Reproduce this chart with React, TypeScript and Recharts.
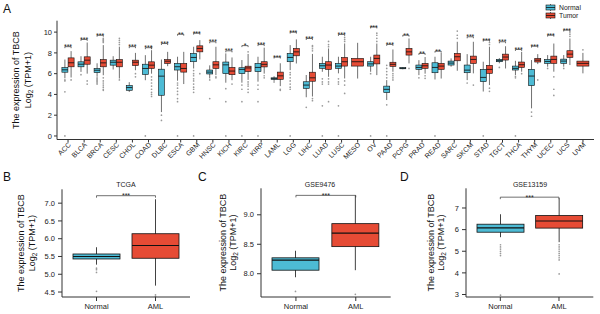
import { Bar, ComposedChart, ReferenceLine, XAxis, YAxis } from "recharts"

const NORMAL_COLOR = "#4DBBD5"
const TUMOR_COLOR = "#E64B35"
const INK = "#222222"

// panel A: TCGA pan-cancer, stats are [lowWhisker, q1, median, q3, highWhisker]
const cancers = [
  "ACC", "BLCA", "BRCA", "CESC", "CHOL", "COAD", "DLBC", "ESCA", "GBM", "HNSC", "KICH",
  "KIRC", "KIRP", "LAML", "LGG", "LIHC", "LUAD", "LUSC", "MESO", "OV", "PAAD", "PCPG",
  "PRAD", "READ", "SARC", "SKCM", "STAD", "TGCT", "THCA", "THYM", "UCEC", "UCS", "UVM",
]

const normalStats: (number[] | null)[] = [
  [5.55, 6.14, 6.37, 6.59, 7.36],
  [6.17, 6.66, 6.91, 7.14, 7.68],
  [5.7, 6.1, 6.33, 6.5, 7.0],
  [6.4, 6.82, 7.1, 7.3, 7.68],
  [4.24, 4.4, 4.66, 4.86, 5.18],
  [5.37, 5.92, 6.5, 6.91, 7.78],
  [2.3, 3.92, 5.76, 6.43, 7.36],
  [5.32, 6.35, 6.67, 6.99, 7.63],
  [6.5, 7.15, 7.56, 7.95, 8.59],
  [5.54, 5.97, 6.15, 6.35, 6.8],
  [5.13, 6.0, 6.85, 7.12, 7.95],
  [5.13, 6.0, 6.41, 6.57, 7.31],
  [5.23, 6.19, 6.6, 6.99, 7.63],
  [5.3, 5.45, 5.52, 5.6, 5.75],
  [6.34, 7.15, 7.56, 7.95, 8.75],
  [3.73, 4.58, 4.9, 5.22, 5.87],
  [6.18, 6.51, 6.76, 6.99, 7.63],
  [6.03, 6.51, 6.73, 6.99, 7.63],
  null,
  [6.18, 6.73, 6.94, 7.15, 7.63],
  [3.46, 4.17, 4.49, 4.8, 5.38],
  [6.42, 6.47, 6.52, 6.58, 6.62],
  [5.86, 6.41, 6.6, 6.83, 7.3],
  [5.44, 6.09, 6.6, 7.05, 7.63],
  [6.67, 6.83, 7.02, 7.21, 7.47],
  [5.38, 6.09, 6.34, 6.83, 7.88],
  [4.28, 5.23, 5.64, 6.42, 7.15],
  [7.0, 7.15, 7.25, 7.38, 7.5],
  [5.87, 6.35, 6.51, 6.73, 7.24],
  [2.66, 4.85, 5.77, 6.42, 7.31],
  [6.67, 6.99, 7.18, 7.37, 7.79],
  [6.67, 6.99, 7.21, 7.4, 7.79],
  null,
]

const tumorStats: number[][] = [
  [5.63, 6.66, 7.05, 7.52, 8.17],
  [6.0, 6.91, 7.3, 7.62, 9.0],
  [5.85, 6.66, 7.04, 7.36, 8.75],
  [5.53, 6.66, 7.1, 7.36, 8.6],
  [6.33, 6.78, 7.1, 7.3, 8.0],
  [6.0, 6.5, 6.82, 7.14, 8.26],
  [6.72, 6.98, 7.2, 7.36, 8.1],
  [5.0, 6.15, 6.5, 6.99, 8.1],
  [7.37, 8.1, 8.43, 8.68, 9.23],
  [5.86, 6.5, 6.85, 7.15, 8.59],
  [5.37, 5.9, 6.25, 6.6, 7.56],
  [5.4, 6.2, 6.55, 6.72, 7.9],
  [6.0, 6.65, 6.9, 7.15, 8.5],
  [4.8, 5.45, 5.79, 6.15, 7.0],
  [6.98, 7.72, 8.1, 8.43, 9.3],
  [3.8, 5.27, 5.6, 6.14, 7.9],
  [5.7, 6.41, 6.83, 7.15, 8.43],
  [5.54, 6.73, 7.15, 7.56, 8.91],
  [5.53, 6.73, 7.15, 7.47, 8.97],
  [5.86, 6.94, 7.47, 7.79, 8.9],
  [6.18, 6.7, 6.9, 7.1, 8.33],
  [6.99, 7.79, 8.1, 8.43, 9.39],
  [6.0, 6.51, 6.76, 6.99, 7.6],
  [5.53, 6.41, 6.73, 6.99, 8.0],
  [6.28, 7.24, 7.63, 7.95, 9.07],
  [6.03, 6.98, 7.37, 7.69, 9.07],
  [4.9, 6.03, 6.41, 6.8, 8.6],
  [6.5, 7.31, 7.6, 7.88, 8.64],
  [6.19, 6.6, 6.86, 7.12, 8.1],
  [6.92, 7.12, 7.3, 7.47, 7.88],
  [6.19, 6.99, 7.37, 7.69, 8.9],
  [6.83, 7.56, 7.88, 8.21, 9.39],
  [6.03, 6.73, 6.99, 7.21, 8.0],
]

const normalOutliers: number[][] = [
  [5.4, 5.3, 4.25, 0], [5.9], [5.6, 5.5, 5.4, 5.3, 5.2, 5.1, 5.0], [], [], [0], [2.0, 1.5],
  [5.1, 4.9, 4.6, 4.3, 4.0, 3.6, 3.3, 0], [6.3, 6.0, 5.8, 5.5, 5.3, 5.0, 4.7, 4.5, 4.2, 0],
  [5.4, 3.6], [4.55, 3.3, 0], [4.9, 4.5, 3.3, 0], [4.9, 4.5, 3.3, 0], [5.2],
  [6.1, 5.9, 5.6, 5.3, 5.0, 4.7, 4.5, 0], [2.76], [5.5, 5.2, 5.0, 2.9, 0], [5.5, 5.2, 5.0, 2.9, 0],
  [], [6.0, 0], [6.8, 6.5, 6.2, 5.9, 5.6, 3.0, 0], [], [5.6], [0], [], [5.1], [0], [6.6],
  [5.75, 5.6, 0], [2.3, 1.9], [6.5], [6.5], [],
]

const tumorOutliers: number[][] = [
  [5.4], [5.3, 5.0], [9.0, 9.1, 9.2, 9.3, 9.4, 5.6, 5.3, 5.1, 4.9, 4.7, 4.5, 4.4],
  [8.8, 9.0, 9.2, 9.4, 5.4], [6.0, 5.7], [8.5, 8.6, 5.7, 5.4, 5.1, 4.8, 4.5, 4.2, 4.0, 3.8], [],
  [], [6.0], [5.7, 5.6], [5.0], [8.1, 5.2, 5.0, 4.8, 4.5, 4.2], [5.8, 5.6], [4.5, 4.4], [],
  [8.2, 8.4, 8.6, 8.7, 3.6, 3.4], [8.6, 8.8, 9.1, 5.5, 5.2, 5.0, 3.3], [9.1, 9.3, 9.5, 5.3, 4.9, 4.1],
  [], [9.1, 9.4, 9.7, 9.9], [6.0, 5.8, 5.6, 5.4], [6.5], [5.8, 5.55], [], [9.4, 9.7, 10.1], [4.9],
  [8.8, 9.0, 4.6, 4.3], [], [6.0], [5.4], [5.7, 4.5, 3.9], [9.6, 9.8, 10.0], [8.3],
]

const signifLabels = [
  "***", "***", "***", "", "***", "***", "***", "**", "***", "***", "***", "*", "***", "***", "***",
  "***", "", "***", "", "***", "***", "**", "**", "**", "", "***", "***", "***", "***", "***", "***", "***", "",
]

const bracketLevels: (number | null)[] = [
  8.6, 9.3, 9.7, null, 8.6, 8.5, 8.9, 9.8, 9.9, 9.07, 8.2, 8.7, 8.8, 7.6, 10.0,
  9.39, null, 9.78, null, 10.5, 8.82, 9.71, 7.95, 8.17, null, 9.55, 9.23, 9.07, 8.33, 8.65, 9.71, 10.2, null,
]

// panels B-D: Normal vs AML
const groups = ["Normal", "AML"]

const tcgaStats = [[5.27, 5.43, 5.5, 5.57, 5.76], [4.68, 5.45, 5.81, 6.14, 7.11]]
const tcgaOutliers = [[5.17, 5.13, 5.05, 4.52], [4.42, 4.38]]
const tcgaBracket = 7.21

const gse9476Stats = [[7.94, 8.06, 8.23, 8.27, 8.39], [8.06, 8.46, 8.69, 8.85, 9.33]]
const gse9476Outliers = [[7.7], [7.65]]
const gse9476Bracket = 9.33

const gse13159Stats = [[5.65, 5.88, 6.08, 6.25, 6.71], [5.42, 6.07, 6.4, 6.65, 7.45]]
const gse13159Outliers = [
  [5.3, 5.2, 5.1, 5.0, 4.9, 4.8, 2.97],
  [5.3, 5.2, 5.1, 5.0, 4.9, 4.8, 4.7, 4.6, 3.95],
]
const gse13159Bracket = 7.5

const pairData = cancers.map((name, i) => {
  const vals = [...(normalStats[i] ?? []), ...tumorStats[i], ...normalOutliers[i], ...tumorOutliers[i]]
  const b = bracketLevels[i]
  if (b != null) vals.push(b)
  return {
    name,
    normal: normalStats[i],
    tumor: tumorStats[i],
    nOut: normalOutliers[i],
    tOut: tumorOutliers[i],
    sig: signifLabels[i],
    bracket: b,
    range: [Math.min(...vals), Math.max(...vals)],
  }
})

const groupData = (stats: number[][], outs: number[][]) =>
  groups.map((name, i) => {
    const vals = [...stats[i], ...outs[i]]
    return { name, stats: stats[i], out: outs[i], range: [Math.min(...vals), Math.max(...vals)] }
  })

function drawBox(cx: number, half: number, stats: number[], out: number[], color: string, py: (v: number) => number, thin: number) {
  const [lo, q1, med, q3, hi] = stats
  const top = py(q3)
  const h = Math.max(py(q1) - top, 1)
  return (
    <g>
      <line x1={cx} x2={cx} y1={py(hi)} y2={py(lo)} stroke="#111" strokeWidth={thin} />
      <rect x={cx - half} y={top} width={half * 2} height={h} fill={color} stroke="#111" strokeWidth={thin} />
      <line x1={cx - half} x2={cx + half} y1={py(med)} y2={py(med)} stroke="#111" strokeWidth={thin * 1.4} />
      {out.map((v, j) => (
        <circle key={j} cx={cx} cy={py(v)} r={0.85} fill="#9a9a9a" />
      ))}
    </g>
  )
}

function pixelMapper(y: number, height: number, range: number[]) {
  const top = Math.min(y, y + height)
  const span = Math.abs(height)
  const [lo, hi] = range
  return (v: number) => top + ((hi - v) / (hi - lo)) * span
}

const PairShape = (props: any) => {
  const { x, y, width, height, payload } = props
  const py = pixelMapper(y, height, payload.range)
  const cx = x + width / 2
  if (!payload.normal) {
    return drawBox(cx, 6, payload.tumor, payload.tOut, TUMOR_COLOR, py, 0.6)
  }
  const off = 3.1
  return (
    <g>
      {drawBox(cx - off, 3, payload.normal, payload.nOut, NORMAL_COLOR, py, 0.6)}
      {drawBox(cx + off, 3, payload.tumor, payload.tOut, TUMOR_COLOR, py, 0.6)}
      {payload.bracket != null && (
        <g>
          <path
            d={`M${cx - off},${py(payload.bracket) + 1.5}V${py(payload.bracket)}H${cx + off}V${py(payload.bracket) + 1.5}`}
            fill="none"
            stroke="#111"
            strokeWidth={0.6}
          />
          <text x={cx} y={py(payload.bracket) + 2.6} textAnchor="middle" fontSize={7} fill={INK}>
            {payload.sig}
          </text>
        </g>
      )}
    </g>
  )
}

const SingleShape = (props: any) => {
  const { x, y, width, height, payload } = props
  const py = pixelMapper(y, height, payload.range)
  const color = payload.name === "Normal" ? NORMAL_COLOR : TUMOR_COLOR
  return drawBox(x + width / 2, width / 2, payload.stats, payload.out, color, py, 0.8)
}

const SigLabel = ({ viewBox, text }: any) => {
  if (!viewBox) return null
  const { x, y, width } = viewBox
  return (
    <g>
      <line x1={x} x2={x} y1={y} y2={y + 2} stroke="#333" strokeWidth={0.7} />
      <line x1={x + width} x2={x + width} y1={y} y2={y + 2} stroke="#333" strokeWidth={0.7} />
      <text x={x + width / 2} y={y + 2.6} textAnchor="middle" fontSize={7} fill={INK}>
        {text}
      </text>
    </g>
  )
}

const AxisTitle = ({ viewBox, gap1, gap2 }: any) => {
  if (!viewBox) return null
  const ax = viewBox.x + viewBox.width
  const cy = viewBox.y + viewBox.height / 2
  return (
    <g fontSize={9} fill="#111">
      <text transform={`translate(${ax - gap1},${cy}) rotate(-90)`} textAnchor="middle" dominantBaseline="central">
        The expression of TBCB
      </text>
      <text transform={`translate(${ax - gap2},${cy}) rotate(-90)`} textAnchor="middle" dominantBaseline="central">
        Log<tspan fontSize={6.5} dy={2}>2</tspan>
        <tspan dy={-2}> (TPM+1)</tspan>
      </text>
    </g>
  )
}

const SlantTick = ({ x, y, payload }: any) => (
  <text transform={`translate(${x + 1.5},${y}) rotate(-45)`} textAnchor="end" fontSize={7} fill={INK} dy="0.35em">
    {payload.value}
  </text>
)

const axisStroke = "#333"

function GroupChart({ data, domain, ticks, fmt, bracket, left, top, marginLeft, marginRight, marginTop, gaps }: any) {
  return (
    <div style={{ position: "absolute", left, top }}>
      <ComposedChart
        width={200}
        height={149}
        data={data}
        margin={{ top: marginTop, right: marginRight, bottom: 3, left: marginLeft }}
      >
        <XAxis
          dataKey="name"
          padding={{ left: 5, right: 5 }}
          height={14}
          tickSize={4}
          tickMargin={3}
          stroke={axisStroke}
          tick={{ fontSize: 7.5, fill: INK }}
        />
        <YAxis
          width={30}
          type="number"
          domain={domain}
          ticks={ticks}
          tickFormatter={fmt}
          tickSize={4}
          tickMargin={3}
          stroke={axisStroke}
          tick={{ fontSize: 7.5, fill: INK }}
          label={<AxisTitle gap1={gaps[0]} gap2={gaps[1]} />}
        />
        <Bar dataKey="range" barSize={47} shape={<SingleShape />} isAnimationActive={false} />
        <ReferenceLine
          segment={[{ x: "Normal", y: bracket }, { x: "AML", y: bracket }]}
          stroke="#333"
          strokeWidth={0.7}
          ifOverflow="visible"
          label={<SigLabel text="***" />}
        />
      </ComposedChart>
    </div>
  )
}

export default function App() {
  return (
    <div
      style={{
        position: "absolute",
        left: 0,
        top: 0,
        width: 600,
        height: 314,
        background: "#fff",
        fontFamily: "'Liberation Sans', Arial, sans-serif",
      }}
    >
      <div style={{ position: "absolute", left: 0, top: 0 }}>
        <ComposedChart width={600} height={165} data={pairData} margin={{ top: 20.7, right: 6, bottom: 2, left: 17 }}>
          <XAxis
            dataKey="name"
            interval={0}
            padding={{ left: 3, right: 3 }}
            height={23.5}
            tickSize={3}
            tickMargin={1}
            stroke={axisStroke}
            tick={<SlantTick />}
          />
          <YAxis
            width={40}
            type="number"
            domain={[-0.34, 11.1]}
            ticks={[0, 2, 4, 6, 8, 10]}
            tickSize={3}
            tickMargin={2}
            stroke={axisStroke}
            tick={{ fontSize: 7.5, fill: INK }}
            label={<AxisTitle gap1={41} gap2={29} />}
          />
          <Bar dataKey="range" barSize={14} shape={<PairShape />} isAnimationActive={false} />
        </ComposedChart>
      </div>

      <GroupChart
        data={groupData(tcgaStats, tcgaOutliers)}
        domain={[4.36, 7.39]}
        ticks={[4.5, 5, 5.5, 6, 6.5, 7]}
        fmt={(v: number) => v.toFixed(1)}
        bracket={tcgaBracket}
        left={0}
        top={165}
        marginLeft={32}
        marginRight={10}
        marginTop={24.3}
        gaps={[41, 30]}
      />
      <GroupChart
        data={groupData(gse9476Stats, gse9476Outliers)}
        domain={[7.605, 9.45]}
        ticks={[8, 8.5, 9]}
        fmt={(v: number) => v.toFixed(1)}
        bracket={gse9476Bracket}
        left={200}
        top={165}
        marginLeft={31}
        marginRight={9.3}
        marginTop={23.3}
        gaps={[38, 28]}
      />
      <GroupChart
        data={groupData(gse13159Stats, gse13159Outliers)}
        domain={[2.885, 7.91]}
        ticks={[3, 4, 5, 6, 7]}
        fmt={(v: number) => String(v)}
        bracket={gse13159Bracket}
        left={400}
        top={165}
        marginLeft={36}
        marginRight={6.7}
        marginTop={23.3}
        gaps={[35, 25]}
      />

      <svg width={600} height={314} style={{ position: "absolute", left: 0, top: 0, pointerEvents: "none" }}>
        <g fontSize={12} fill="#111">
          <text x={3} y={13}>A</text>
          <text x={3} y={181}>B</text>
          <text x={198} y={181}>C</text>
          <text x={400} y={181}>D</text>
        </g>
        <g fontSize={7} fill={INK} textAnchor="middle">
          <text x={126} y={186.5}>TCGA</text>
          <text x={320} y={186.5}>GSE9476</text>
          <text x={530} y={186.5}>GSE13159</text>
        </g>
        <g>
          <line x1={550.5} x2={550.5} y1={4} y2={11} stroke="#111" strokeWidth={0.6} />
          <rect x={546} y={5} width={9} height={5} fill={NORMAL_COLOR} stroke="#111" strokeWidth={0.6} />
          <line x1={546} x2={555} y1={7.5} y2={7.5} stroke="#111" strokeWidth={0.8} />
          <line x1={550.5} x2={550.5} y1={12} y2={19} stroke="#111" strokeWidth={0.6} />
          <rect x={546} y={13} width={9} height={5} fill={TUMOR_COLOR} stroke="#111" strokeWidth={0.6} />
          <line x1={546} x2={555} y1={15.5} y2={15.5} stroke="#111" strokeWidth={0.8} />
          <text x={559} y={10} fontSize={6.8} fill={INK}>Normal</text>
          <text x={559} y={18} fontSize={6.8} fill={INK}>Tumor</text>
        </g>
      </svg>
    </div>
  )
}
